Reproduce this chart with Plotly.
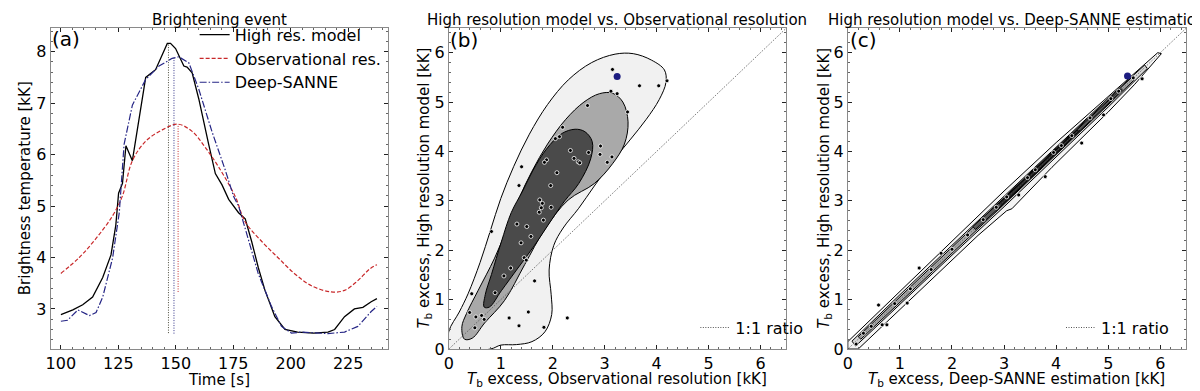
import plotly.graph_objects as go

# ---- panel (a): brightening event light curves ----
t_hr = [100, 105.2, 109.5, 113.8, 118.2, 121.8, 123.9, 125.1, 126.8, 128.3, 131.1, 136.9, 141.2, 145.5,
        146.3, 147.7, 149.9, 153.5, 154.9, 157.1, 160.0, 164.3, 167.2, 170.1, 173.0, 177.3, 180.2, 183.0,
        185.9, 188.8, 193.1, 197.5, 203.0, 210.0, 216.2, 219.1, 223.4, 227.7, 231.4, 235.0, 237.5]
tb_hr = [2.89, 2.98, 3.08, 3.23, 3.61, 4.05, 4.63, 5.25, 5.44, 6.17, 5.88, 7.50, 7.65, 8.09,
         8.16, 8.16, 8.06, 7.72, 7.70, 7.59, 7.08, 6.20, 5.63, 5.41, 5.13, 4.87, 4.75, 4.31,
         3.80, 3.36, 2.85, 2.60, 2.55, 2.53, 2.55, 2.60, 2.85, 3.00, 3.03, 3.14, 3.20]

t_obs = [100, 108, 115.3, 122.5, 126.8, 131.1, 136.9, 144.1, 150.9, 157.1, 162.8, 168.6, 175.8,
         180.2, 187.4, 194.6, 201.8, 209.0, 217.6, 223.4, 229.2, 234.2, 237.5]
tb_obs = [3.69, 4.00, 4.37, 4.81, 5.20, 5.88, 6.26, 6.48, 6.59, 6.45, 6.14, 5.76, 5.19,
          4.69, 4.31, 3.99, 3.68, 3.45, 3.33, 3.36, 3.55, 3.77, 3.86]

t_dl = [100, 102.9, 107.4, 112.4, 115.3, 118.2, 122.5, 125.4, 127.5, 131.1, 136.9, 142.7, 148.4,
        151.3, 155.7, 160.0, 165.7, 171.5, 175.1, 177.3, 180.2, 185.9, 191.7, 196.0, 200.3, 204.7,
        216.2, 223.4, 229.2, 235.0, 237.5]
tb_dl = [2.76, 2.78, 2.98, 2.87, 2.93, 3.23, 3.99, 4.87, 6.20, 6.96, 7.46, 7.72, 7.87,
         7.90, 7.78, 7.27, 6.45, 5.70, 5.19, 5.00, 4.56, 3.68, 3.04, 2.66, 2.53, 2.55,
         2.52, 2.55, 2.66, 2.95, 3.05]

peak_t = [146.8, 149.2, 151.0]   # time of maximum: high res, deep-sanne, obs

# ---- panel (b): HR model vs observational resolution ----
b_outer_x = [0, 0, 0.2, 0.37, 0.6, 0.8, 1.0, 1.25, 1.55, 1.9, 2.3, 2.75, 3.2, 3.55, 3.9, 4.15, 4.18,
             4.05, 3.8, 3.5, 3.15, 2.8, 2.5, 2.2, 2.02, 1.93, 1.97, 1.98, 1.85, 1.6, 1.3, 1.0, 0.8]
b_outer_y = [0, 0.36, 0.75, 1.12, 1.75, 2.4, 3.05, 3.7, 4.35, 4.95, 5.45, 5.8, 5.97, 5.98, 5.85, 5.65, 5.4,
             5.05, 4.65, 4.25, 3.8, 3.3, 2.85, 2.45, 2.1, 1.6, 1.1, 0.7, 0.35, 0.15, 0.09, 0.08, 0]
b_mid_x = [0.3, 0.25, 0.34, 0.56, 0.88, 1.14, 1.35, 1.6, 1.9, 2.25, 2.6, 2.9, 3.15, 3.35, 3.45, 3.38,
           3.15, 2.8, 2.3, 1.85, 1.46, 1.07, 0.69, 0.45]
b_mid_y = [0.2, 0.45, 0.72, 1.18, 1.84, 2.49, 3.05, 3.6, 4.15, 4.65, 5.0, 5.17, 5.18, 5.0, 4.6, 4.15,
           3.75, 3.35, 3.02, 2.43, 1.71, 0.98, 0.53, 0.22]
b_in_x = [0.68, 0.7, 0.82, 1.01, 1.2, 1.42, 1.62, 1.88, 2.17, 2.43, 2.62, 2.76, 2.73, 2.5, 2.23, 1.98,
          1.65, 1.33, 1.01, 0.78]
b_in_y = [0.85, 1.1, 1.51, 2.17, 2.76, 3.2, 3.62, 4.05, 4.36, 4.45, 4.4, 4.2, 3.85, 3.35, 3.0, 2.62,
          2.1, 1.64, 1.18, 0.85]

b_pts_x = [3.15, 3.67, 4.04, 4.20, 3.12, 3.24, 3.44, 2.67, 2.19, 2.13, 2.05, 2.92, 2.69, 2.91, 2.34,
           2.41, 2.49, 2.52, 3.14, 3.05, 1.88, 1.84, 2.08, 1.96, 1.40, 1.35, 1.75, 1.80, 1.78, 1.74,
           1.97, 1.31, 1.50, 1.82, 1.58, 1.39, 1.45, 1.49, 1.19, 1.06, 0.89, 0.82, 0.44, 0.40, 0.52,
           0.63, 0.68, 0.50, 1.16, 1.53, 1.35, 1.83, 1.65, 2.28]
b_pts_y = [5.66, 5.33, 5.33, 5.43, 5.22, 5.17, 4.80, 4.93, 4.49, 4.30, 4.26, 4.11, 3.98, 3.94, 4.02,
           3.86, 3.79, 3.77, 3.89, 3.78, 3.83, 3.78, 3.57, 3.31, 3.69, 3.31, 3.02, 2.95, 2.86, 2.77,
           2.87, 2.53, 2.48, 2.61, 2.28, 2.15, 1.85, 1.80, 1.64, 1.48, 1.14, 2.38, 1.12, 0.74, 0.65,
           0.68, 0.60, 0.43, 0.63, 0.75, 0.47, 0.44, 1.38, 0.63]
b_event = [3.24, 5.52]

# ---- panel (c): HR model vs Deep-SANNE ----
c_l1_x = [0, 1, 2, 3, 4, 5, 5.95, 6.02, 5.5, 5.0, 4.5, 3.92, 3.15, 3.05, 2.5, 2.0, 1.0, 0.2, 0]
c_l1_y = [0.15, 1.17, 2.19, 3.2, 4.18, 5.12, 6.0, 5.98, 5.35, 4.8, 4.28, 3.68, 2.84, 2.8, 2.3, 1.8, 0.8, 0, 0]
c_l2_x = [0.08, 1, 2, 3, 4, 5, 5.7, 5.75, 5, 4, 3, 2, 1, 0.15]
c_l2_y = [0.16, 1.1, 2.1, 3.1, 4.1, 5.08, 5.75, 5.68, 4.9, 3.88, 2.88, 1.9, 0.9, 0.06]
c_l3_x = [0.2, 2, 3, 4, 5, 5.45, 5.5, 4, 3, 2, 0.25]
c_l3_y = [0.25, 2.06, 3.07, 4.07, 5.05, 5.5, 5.45, 3.93, 2.93, 1.94, 0.2]
c_l4_x = [2.4, 3, 4, 5, 5.25, 5.27, 4, 3, 2.45]
c_l4_y = [2.48, 3.05, 4.05, 5.03, 5.27, 5.24, 3.95, 2.95, 2.42]
c_l5_x = [2.9, 3.5, 4.4, 4.45, 3.5, 2.95]
c_l5_y = [2.95, 3.54, 4.43, 4.42, 3.46, 2.9]

c_pts_x = [0.16, 0.3, 0.45, 0.59, 0.66, 0.75, 1.14, 1.37, 1.79, 0.9, 1.2, 1.6, 2.0, 2.3, 2.6, 2.85,
           3.05, 3.28, 3.45, 3.6, 3.79, 3.95, 4.1, 4.3, 4.49, 4.65, 4.91, 5.05, 5.2, 5.48, 5.64, 5.65]
c_pts_y = [0.10, 0.32, 0.46, 0.89, 0.49, 0.49, 0.93, 1.64, 1.94, 0.92, 1.22, 1.61, 2.02, 2.31, 2.62,
           2.87, 3.08, 3.12, 3.47, 3.63, 3.49, 3.98, 4.12, 4.32, 4.17, 4.68, 4.74, 5.07, 5.22, 5.49, 5.48, 5.47]
c_event = [5.37, 5.53]

ratio = [0, 6.5]

FONT = "DejaVu Sans"
fig = go.Figure()

# (a)
fig.add_trace(go.Scatter(x=t_hr, y=tb_hr, mode="lines", name="High res. model",
                         line=dict(color="black", width=1.3), legend="legend"))
fig.add_trace(go.Scatter(x=t_obs, y=tb_obs, mode="lines", name="Observational res.",
                         line=dict(color="#c8282a", width=1.2, dash="4px,2px", shape="spline"), legend="legend"))
fig.add_trace(go.Scatter(x=t_dl, y=tb_dl, mode="lines", name="Deep-SANNE",
                         line=dict(color="#262686", width=1.2, dash="7px,2px,1.5px,2px"), legend="legend"))
for t0, ser, col in zip(peak_t, [tb_hr, tb_dl, tb_obs], ["#4a4a3a", "#33338a", "#c8282a"]):
    fig.add_trace(go.Scatter(x=[t0, t0], y=[min(ser), max(ser)], mode="lines", showlegend=False,
                             line=dict(color=col, width=1, dash="1px,1.5px")))

# (b)
for px_, py_, col in [(b_outer_x, b_outer_y, "#f1f1f1"), (b_mid_x, b_mid_y, "#a9a9a9"), (b_in_x, b_in_y, "#4a4a4a")]:
    fig.add_trace(go.Scatter(x=px_ + [px_[0]], y=py_ + [py_[0]], mode="lines", fill="toself", fillcolor=col,
                             line=dict(color="black", width=1, shape="spline"), showlegend=False,
                             xaxis="x2", yaxis="y2", hoverinfo="skip"))
fig.add_trace(go.Scatter(x=ratio, y=ratio, mode="lines", name="1:1 ratio", xaxis="x2", yaxis="y2",
                         line=dict(color="#555", width=1, dash="1px,1.5px"), legend="legend2"))
fig.add_trace(go.Scatter(x=b_pts_x, y=b_pts_y, mode="markers", showlegend=False, xaxis="x2", yaxis="y2",
                         marker=dict(color="black", size=4, line=dict(color="white", width=0.8))))
fig.add_trace(go.Scatter(x=[b_event[0]], y=[b_event[1]], mode="markers", showlegend=False, xaxis="x2", yaxis="y2",
                         marker=dict(color="#1c1c80", size=7)))

# (c)
for px_, py_, col in [(c_l1_x, c_l1_y, "#f4f4f4"), (c_l2_x, c_l2_y, "#d6d6d6"), (c_l3_x, c_l3_y, "#a8a8a8"),
                      (c_l4_x, c_l4_y, "#5a5a5a"), (c_l5_x, c_l5_y, "#262626")]:
    fig.add_trace(go.Scatter(x=px_ + [px_[0]], y=py_ + [py_[0]], mode="lines", fill="toself", fillcolor=col,
                             line=dict(color="black", width=1), showlegend=False,
                             xaxis="x3", yaxis="y3", hoverinfo="skip"))
fig.add_trace(go.Scatter(x=ratio, y=ratio, mode="lines", name="1:1 ratio", xaxis="x3", yaxis="y3",
                         line=dict(color="#555", width=1, dash="1px,1.5px"), legend="legend3"))
fig.add_trace(go.Scatter(x=c_pts_x, y=c_pts_y, mode="markers", showlegend=False, xaxis="x3", yaxis="y3",
                         marker=dict(color="black", size=4, line=dict(color="white", width=0.8))))
fig.add_trace(go.Scatter(x=[c_event[0]], y=[c_event[1]], mode="markers", showlegend=False, xaxis="x3", yaxis="y3",
                         marker=dict(color="#1c1c80", size=7)))


def ax(domain, rng, dtick, minor, anchor):
    return dict(domain=domain, range=rng, dtick=dtick, tick0=0, anchor=anchor,
                showline=True, linecolor="#8a8a8a", linewidth=1, mirror="ticks",
                ticks="inside", ticklen=4, tickcolor="#222", showgrid=False, zeroline=False,
                tickfont=dict(size=16, color="black", family=FONT),
                minor=dict(dtick=minor, ticks="inside", ticklen=2, tickcolor="#666", showgrid=False))


ytop, ybot = 1 - 20.5 / 391, 1 - 350 / 391
fig.update_layout(
    width=1200, height=391, margin=dict(l=0, r=0, t=0, b=0),
    plot_bgcolor="white", paper_bgcolor="white", font=dict(family=FONT, color="black"),
    xaxis=ax([37.7 / 1200, 377 / 1200], [95.5, 242.5], 25, 5, "y"),
    yaxis=ax([ybot, ytop], [2.22, 8.46], 1, 0.2, "x"),
    xaxis2=ax([437.7 / 1200, 776.7 / 1200], [0, 6.5], 1, 0.2, "y2"),
    yaxis2=ax([ybot, ytop], [0, 6.5], 1, 0.2, "x2"),
    xaxis3=ax([838.3 / 1200, 1178.3 / 1200], [0, 6.5], 1, 0.2, "y3"),
    yaxis3=ax([ybot, ytop], [0, 6.5], 1, 0.2, "x3"),
    legend=dict(x=0.152, y=1 - 10 / 391, xanchor="left", yanchor="top", bgcolor="rgba(0,0,0,0)",
                font=dict(size=16, family=FONT)),
    legend2=dict(x=0.571, y=1 - 328 / 391, xanchor="left", yanchor="middle", bgcolor="rgba(0,0,0,0)",
                 font=dict(size=16, family=FONT)),
    legend3=dict(x=0.877, y=1 - 328 / 391, xanchor="left", yanchor="middle", bgcolor="rgba(0,0,0,0)",
                 font=dict(size=16, family=FONT)),
)

notes = [
    ("Brightening event", 207, 12, 0, 15),
    ("High resolution model vs. Observational resolution", 607, 12, 0, 15),
    ("High resolution model vs. Deep-SANNE estimation", 1008, 12, 0, 15),
    ("Time [s]", 207, 382, 0, 15),
    ("<i>T</i><sub>b</sub> excess, Observational resolution [kK]", 607, 381, 0, 15),
    ("<i>T</i><sub>b</sub> excess, Deep-SANNE estimation [kK]", 1008, 381, 0, 15),
    ("Brightness temperature [kK]", 12, 185, -90, 15),
    ("<i>T</i><sub>b</sub> excess, High resolution model [kK]", 413, 185, -90, 15),
    ("<i>T</i><sub>b</sub> excess, High resolution model [kK]", 815, 185, -90, 15),
    ("(a)", 53, 32, 0, 20),
    ("(b)", 453, 33, 0, 20),
    ("(c)", 854, 33, 0, 20),
]
for txt, xp, yp, ang, sz in notes:
    fig.add_annotation(text=txt, x=xp / 1200, y=1 - yp / 391, xref="paper", yref="paper",
                       xanchor="center", yanchor="middle", showarrow=False, textangle=ang,
                       font=dict(size=sz, family=FONT, color="black"))

fig.write_html("out.html")
